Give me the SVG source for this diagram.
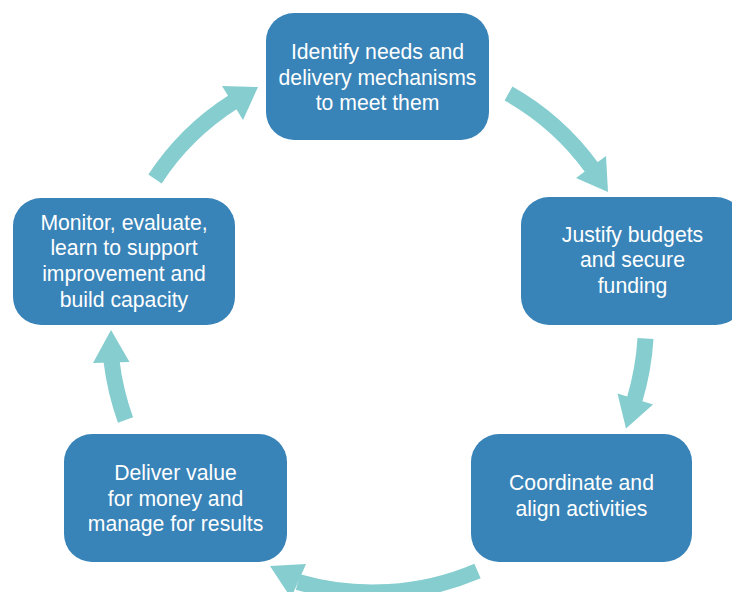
<svg xmlns="http://www.w3.org/2000/svg" width="732" height="592" viewBox="0 0 732 592">
  <style>
    .box { fill: #3883b7; }
    .lbl { font-family: "Liberation Sans", Arial, sans-serif; font-size: 21.2px; fill: #ffffff; text-anchor: middle; }
    .body { fill: none; stroke: #85cdcf; stroke-width: 16; stroke-linecap: butt; }
    .head { fill: #85cdcf; }
  </style>
  <rect width="732" height="592" fill="#ffffff"/>
  <g id="connectors">
    <path class="body" d="M508.5,93.5 A262,262 0 0 1 592,168"/>
    <polygon class="head" points="606,156 576,178 608,192"/>
    <path class="body" d="M645.5,338.5 A270,270 0 0 1 634.5,400"/>
    <polygon class="head" points="653,404.5 617.5,393.5 626,428.5"/>
    <path class="body" d="M477.5,571 A268,268 0 0 1 298,582"/>
    <polygon class="head" points="306,564 291,598 270,566"/>
    <path class="body" d="M125.5,420 A270,270 0 0 1 111.5,361"/>
    <polygon class="head" points="93,363 129.5,362 111,330"/>
    <path class="body" d="M155,179 A260,260 0 0 1 233,102"/>
    <polygon class="head" points="222,86 243,120 258,87"/>
  </g>
  <g id="node-identify">
    <rect class="box" x="266" y="13" width="223" height="127" rx="28"/>
    <text class="lbl" x="377.5" y="59">Identify needs and</text>
    <text class="lbl" x="377.5" y="84.5">delivery mechanisms</text>
    <text class="lbl" x="377.5" y="110">to meet them</text>
  </g>
  <g id="node-justify">
    <rect class="box" x="521" y="197" width="223" height="128" rx="28"/>
    <text class="lbl" x="632.5" y="241.5">Justify budgets</text>
    <text class="lbl" x="632.5" y="267">and secure</text>
    <text class="lbl" x="632.5" y="292.5">funding</text>
  </g>
  <g id="node-coordinate">
    <rect class="box" x="471" y="434" width="221" height="128" rx="28"/>
    <text class="lbl" x="581.5" y="490">Coordinate and</text>
    <text class="lbl" x="581.5" y="515.5">align activities</text>
  </g>
  <g id="node-deliver">
    <rect class="box" x="64" y="434" width="223" height="128" rx="28"/>
    <text class="lbl" x="175.5" y="480">Deliver value</text>
    <text class="lbl" x="175.5" y="505.5">for money and</text>
    <text class="lbl" x="175.5" y="531">manage for results</text>
  </g>
  <g id="node-monitor">
    <rect class="box" x="13" y="198" width="222" height="127" rx="28"/>
    <text class="lbl" x="124" y="229.5">Monitor, evaluate,</text>
    <text class="lbl" x="124" y="255">learn to support</text>
    <text class="lbl" x="124" y="280.5">improvement and</text>
    <text class="lbl" x="124" y="306.5">build capacity</text>
  </g>
</svg>
